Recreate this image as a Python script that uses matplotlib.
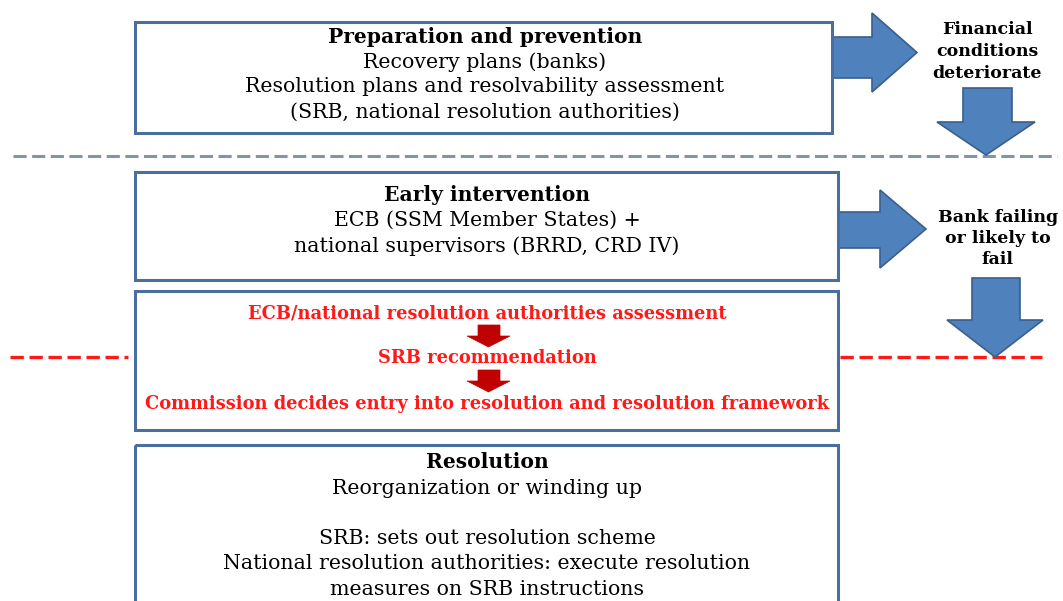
import matplotlib
matplotlib.use("Agg")
import matplotlib.pyplot as plt
from matplotlib.patches import Rectangle, Polygon

plt.rcParams['font.family'] = ['DejaVu Serif']

# ---- content ----
box1_title = "Preparation and prevention"
box1_lines = ["Recovery plans (banks)",
              "Resolution plans and resolvability assessment",
              "(SRB, national resolution authorities)"]
box2_title = "Early intervention"
box2_lines = ["ECB (SSM Member States) +",
              "national supervisors (BRRD, CRD IV)"]
box3_steps = ["ECB/national resolution authorities assessment",
              "SRB recommendation",
              "Commission decides entry into resolution and resolution framework"]
box4_title = "Resolution"
box4_lines = ["Reorganization or winding up", "",
              "SRB: sets out resolution scheme",
              "National resolution authorities: execute resolution",
              "measures on SRB instructions"]
side1 = ["Financial", "conditions", "deteriorate"]
side2 = ["Bank failing", "or likely to", "fail"]

# ---- style ----
BOX_EDGE = "#4A6E9E"
ARROW_FILL = "#4F81BD"
ARROW_EDGE = "#3A5F8C"
GRAY_DASH = "#8392AD"
RED = "#FF1A1A"
DARK_RED = "#C00000"
FS = 14.8
FS_T = 14.6

fig = plt.figure(figsize=(10.63, 6.01), dpi=100)
ax = fig.add_axes([0, 0, 1, 1])
ax.set_xlim(0, 1063)
ax.set_ylim(601, 0)
ax.axis('off')


def box(x0, y0, x1, y1):
    ax.add_patch(Rectangle((x0, y0), x1 - x0, y1 - y0, fill=False,
                           edgecolor=BOX_EDGE, lw=2.2, zorder=3))


def right_arrow(x0, xh, xt, sy0, sy1, hy0, hy1):
    yc = (hy0 + hy1) / 2
    pts = [(x0, sy0), (xh, sy0), (xh, hy0), (xt, yc), (xh, hy1), (xh, sy1), (x0, sy1)]
    ax.add_patch(Polygon(pts, closed=True, facecolor=ARROW_FILL,
                         edgecolor=ARROW_EDGE, lw=1.2, zorder=2))


def down_arrow(sx0, sx1, y0, yh, hx0, hx1, yt, fc=ARROW_FILL, ec=ARROW_EDGE, lw=1.2):
    xc = (hx0 + hx1) / 2
    pts = [(sx0, y0), (sx1, y0), (sx1, yh), (hx1, yh), (xc, yt), (hx0, yh), (sx0, yh)]
    ax.add_patch(Polygon(pts, closed=True, facecolor=fc, edgecolor=ec, lw=lw, zorder=4))


# boxes
box(135, 22, 832, 133)
box(135, 172, 838, 280)
box(135, 291, 838, 430)
box(135, 445, 838, 640)

# dashed separators
ax.plot([13, 1057], [156, 156], color=GRAY_DASH, lw=2.2, ls=(0, (4.3, 1.8)), zorder=1)
ax.plot([10, 128], [357, 357], color=RED, lw=2.4, ls=(0, (4.0, 1.7)), zorder=1)
ax.plot([840, 1042], [357, 357], color=RED, lw=2.4, ls=(0, (4.0, 1.7)), zorder=1)

# big blue arrows
right_arrow(832, 872, 917, 37, 78, 13, 92)
down_arrow(963, 1012, 88, 122, 937, 1035, 155)
right_arrow(838, 880, 926, 212, 248, 190, 268)
down_arrow(972, 1020, 278, 320, 947, 1043, 357)

# small red arrows
down_arrow(478, 500, 325, 336, 467, 510, 347, fc=DARK_RED, ec=DARK_RED, lw=0.5)
down_arrow(478, 500, 370, 381, 467, 510, 392, fc=DARK_RED, ec=DARK_RED, lw=0.5)

# texts
cx = 485
ax.text(cx, 37, box1_title, ha='center', va='center', fontsize=FS_T, fontweight='bold')
for i, t in enumerate(box1_lines):
    ax.text(cx, 62 + 25 * i, t, ha='center', va='center', fontsize=FS)

ax.text(487, 195, box2_title, ha='center', va='center', fontsize=FS_T, fontweight='bold')
for i, t in enumerate(box2_lines):
    ax.text(487, 220 + 26 * i, t, ha='center', va='center', fontsize=FS)

for y, t in zip([314, 358, 404], box3_steps):
    ax.text(487, y, t, ha='center', va='center', fontsize=12.85, fontweight='bold', color=RED)

ax.text(487, 462, box4_title, ha='center', va='center', fontsize=FS_T, fontweight='bold')
for i, t in enumerate(box4_lines):
    ax.text(487, 488 + 25.3 * i, t, ha='center', va='center', fontsize=FS)

for i, t in enumerate(side1):
    ax.text(987, 30 + 21.5 * i, t, ha='center', va='center', fontsize=12.5, fontweight='bold')
for i, t in enumerate(side2):
    ax.text(998, 217 + 21.5 * i, t, ha='center', va='center', fontsize=12.5, fontweight='bold')

fig.savefig("out.png", dpi=100)
